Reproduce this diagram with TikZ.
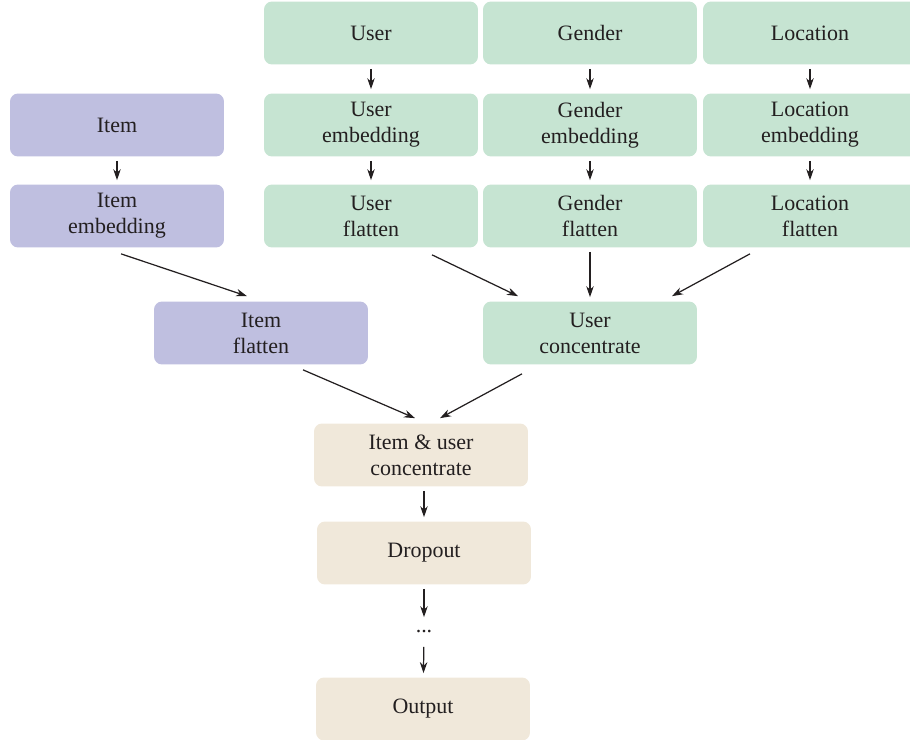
\documentclass[tikz,border=0pt]{standalone}
\usepackage{fontspec}
\setmainfont{Liberation Serif}
\usetikzlibrary{arrows.meta}

\definecolor{itemcol}{RGB}{191,191,224}
\definecolor{usercol}{RGB}{198,228,210}
\definecolor{joincol}{RGB}{240,232,218}
\definecolor{textcol}{RGB}{35,31,32}

\begin{document}
\begin{tikzpicture}[x=0.02cm, y=-0.02cm,
  every node/.style={minimum width=4.28cm, minimum height=1.26cm, rounded corners=0.16cm,
    align=center, text=textcol, font=\fontsize{12.5}{14.8}\selectfont, inner sep=2pt},
  itembox/.style={fill=itemcol},
  userbox/.style={fill=usercol},
  joinbox/.style={fill=joincol},
  link/.style={-{Stealth[length=2.2mm,width=1.5mm,inset=0.7mm]}, line width=0.7pt, color=textcol,
    shorten <=0.08cm, shorten >=0.08cm}]
\useasboundingbox (0,0) rectangle (910,740);

% item side
\node[itembox] (item) at (117,125) {Item};
\node[itembox] (iemb) at (117,216) {Item\\embedding};
\node[itembox] (iflat) at (261,333) {Item\\flatten};

% user side
\node[userbox] (user) at (371,33) {User};
\node[userbox] (gender) at (590,33) {Gender};
\node[userbox] (location) at (810,33) {Location};
\node[userbox] (uemb) at (371,125) {User\\embedding};
\node[userbox] (gemb) at (590,125) {Gender\\embedding};
\node[userbox] (lemb) at (810,125) {Location\\embedding};
\node[userbox] (uflat) at (371,216) {User\\flatten};
\node[userbox] (gflat) at (590,216) {Gender\\flatten};
\node[userbox] (lflat) at (810,216) {Location\\flatten};
\node[userbox] (ucon) at (590,333) {User\\concentrate};

% joined part
\node[joinbox] (iucon) at (421,455) {Item \& user\\concentrate};
\node[joinbox] (drop) at (424,553) {Dropout};
\node[minimum width=0pt, minimum height=0.42cm, inner sep=0pt] (dots) at (424,632) {...};
\node[joinbox] (out) at (423,709) {Output};

\draw[link] (item) -- (iemb);
\draw[link] (user) -- (uemb);
\draw[link] (gender) -- (gemb);
\draw[link] (location) -- (lemb);
\draw[link] (uemb) -- (uflat);
\draw[link] (gemb) -- (gflat);
\draw[link] (lemb) -- (lflat);

\draw[link, shorten <=0pt, shorten >=0pt] ([shift={(4,6)}]iemb.south) -- ([shift={(-14,-5)}]iflat.north);
\draw[link, shorten <=0pt, shorten >=0pt] ([shift={(61,7)}]uflat.south) -- ([shift={(-72,-5)}]ucon.north);
\draw[link] (gflat) -- (ucon);
\draw[link, shorten <=0pt, shorten >=0pt] ([shift={(-60,6)}]lflat.south) -- ([shift={(82,-5)}]ucon.north);
\draw[link, shorten <=0pt, shorten >=0pt] ([shift={(42,5)}]iflat.south) -- ([shift={(-6,-5)}]iucon.north);
\draw[link, shorten <=0pt, shorten >=0pt] ([shift={(-68,9)}]ucon.south) -- ([shift={(19,-5)}]iucon.north);

\draw[link] (iucon.south -| drop.north) -- (drop.north);
\draw[link] (drop) -- (dots);
\draw[link] (dots) -- (out);
\end{tikzpicture}
\end{document}
